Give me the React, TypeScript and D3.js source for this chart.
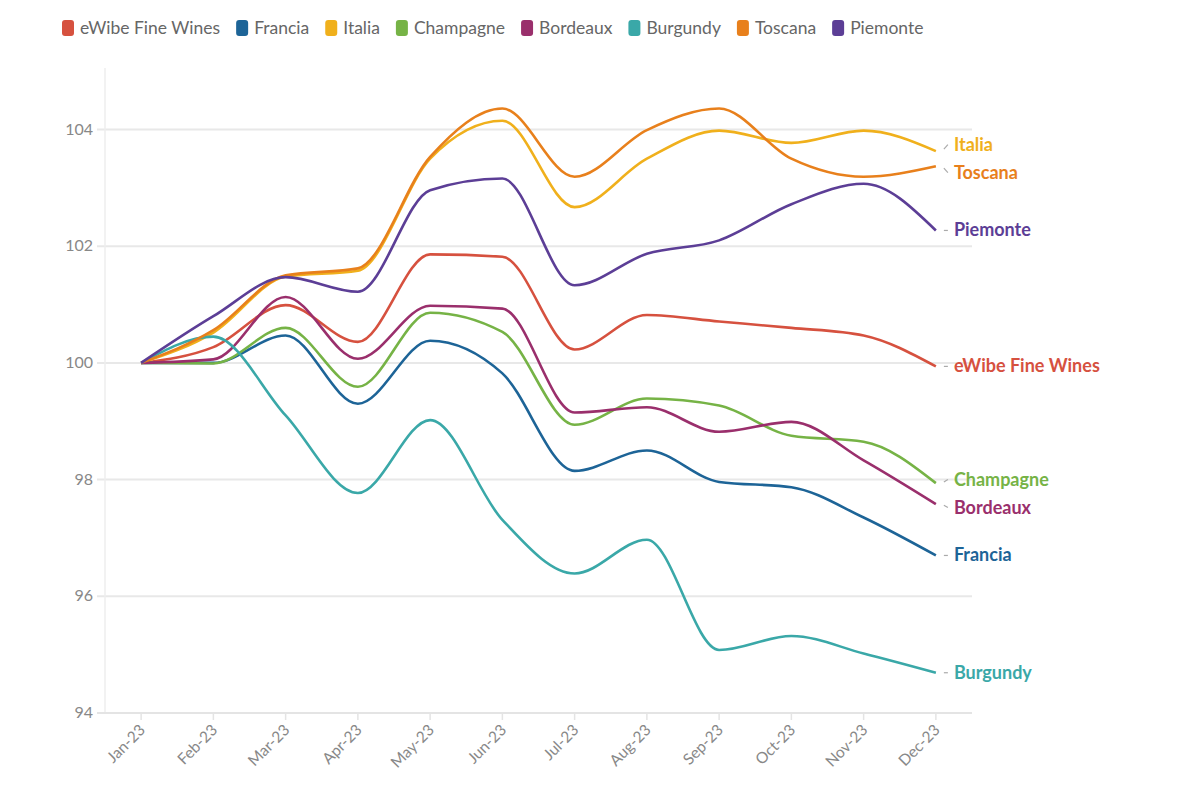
import React, { useRef, useEffect } from 'react';
import * as d3 from 'd3';

const months = ['Jan-23', 'Feb-23', 'Mar-23', 'Apr-23', 'May-23', 'Jun-23', 'Jul-23', 'Aug-23', 'Sep-23', 'Oct-23', 'Nov-23', 'Dec-23'];
const seriesNames = ['eWibe Fine Wines', 'Francia', 'Italia', 'Champagne', 'Bordeaux', 'Burgundy', 'Toscana', 'Piemonte'];
const seriesColors = ['#d6513f', '#1d6497', '#f0b01c', '#76b346', '#9a2f6c', '#3aa8a8', '#e8801c', '#5c3e96'];

const eWibe = [100, 100.27, 100.99, 100.36, 101.86, 101.82, 100.23, 100.82, 100.71, 100.6, 100.47, 99.94];
const francia = [100, 100.0, 100.47, 99.3, 100.38, 99.82, 98.15, 98.5, 97.96, 97.87, 97.35, 96.7];
const italia = [100, 100.52, 101.48, 101.58, 103.5, 104.15, 102.67, 103.5, 103.98, 103.77, 103.98, 103.63];
const champagne = [100, 99.99, 100.6, 99.59, 100.86, 100.53, 98.94, 99.39, 99.27, 98.75, 98.65, 97.94];
const bordeaux = [100, 100.06, 101.13, 100.07, 100.98, 100.93, 99.15, 99.24, 98.82, 98.99, 98.33, 97.58];
const burgundy = [100, 100.45, 99.1, 97.77, 99.02, 97.31, 96.39, 96.97, 95.08, 95.32, 95.02, 94.69];
const toscana = [100, 100.56, 101.5, 101.62, 103.53, 104.36, 103.19, 103.99, 104.36, 103.5, 103.19, 103.37];
const piemonte = [100, 100.8, 101.47, 101.22, 102.96, 103.16, 101.33, 101.87, 102.1, 102.72, 103.07, 102.27];

const seriesValues = [eWibe, francia, italia, champagne, bordeaux, burgundy, toscana, piemonte];
const yTicks = [94, 96, 98, 100, 102, 104];

const FONT = 'Lato, "Noto Sans", sans-serif';

const App = () => {
  const svgRef = useRef(null);

  useEffect(() => {
    const svg = d3.select(svgRef.current);
    svg.selectAll('*').remove();

    const left = 105, right = 972, top = 68, bottom = 713;

    const x = d3.scalePoint().domain(months).range([left, right]).padding(0.5);
    const y = d3.scaleLinear().domain([94, 94 + (bottom - top) / 58.35]).range([bottom, top]);

    // legend
    const legend = svg.append('g').attr('transform', 'translate(62,20)');
    let lx = 0;
    seriesNames.forEach((name, i) => {
      const g = legend.append('g').attr('transform', `translate(${lx},0)`);
      g.append('rect').attr('width', 12).attr('height', 16).attr('rx', 3).attr('fill', seriesColors[i]);
      const t = g.append('text')
        .attr('x', 18).attr('y', 14)
        .attr('font-family', FONT).attr('font-size', 17.5).attr('fill', '#666')
        .text(name);
      const w = (t.node() as SVGTextElement).getComputedTextLength();
      lx += 18 + w + 16;
    });

    // grid
    svg.append('g').selectAll('line').data(yTicks.filter(d => d !== 94)).enter().append('line')
      .attr('x1', left - 8).attr('x2', right)
      .attr('y1', d => y(d)).attr('y2', d => y(d))
      .attr('stroke', '#e8e8e8').attr('stroke-width', 2);

    // y axis line
    svg.append('line').attr('x1', left).attr('x2', left).attr('y1', top).attr('y2', bottom)
      .attr('stroke', '#eeeeee').attr('stroke-width', 1.5);

    // x baseline
    svg.append('line').attr('x1', left - 8).attr('x2', right).attr('y1', y(94)).attr('y2', y(94))
      .attr('stroke', '#e4e4e4').attr('stroke-width', 2);

    svg.append('g').selectAll('line').data(months).enter().append('line')
      .attr('x1', d => x(d)).attr('x2', d => x(d))
      .attr('y1', bottom).attr('y2', bottom + 7)
      .attr('stroke', '#e4e4e4').attr('stroke-width', 1.5);

    svg.append('g').selectAll('text').data(yTicks).enter().append('text')
      .attr('x', left - 12).attr('y', d => y(d) + 5)
      .attr('text-anchor', 'end')
      .attr('font-family', FONT).attr('font-size', 16).attr('fill', '#888')
      .text(d => d);

    svg.append('g').selectAll('text').data(months).enter().append('text')
      .attr('transform', d => `translate(${x(d) + 5},${bottom + 18}) rotate(-45)`)
      .attr('text-anchor', 'end')
      .attr('font-family', FONT).attr('font-size', 15.5).attr('fill', '#888')
      .text(d => d);

    // lines
    const line = d3.line<number>()
      .x((d, i) => x(months[i]))
      .y(d => y(d))
      .curve(d3.curveMonotoneX);

    seriesValues.forEach((vals, i) => {
      svg.append('path')
        .attr('d', line(vals))
        .attr('fill', 'none')
        .attr('stroke', seriesColors[i])
        .attr('stroke-width', 2.6)
        .attr('stroke-linejoin', 'round');
    });

    // end labels with simple dodge
    const last = months[months.length - 1];
    const ends = seriesNames.map((name, i) => {
      const v = seriesValues[i][seriesValues[i].length - 1];
      return { name, color: seriesColors[i], y0: y(v), ly: y(v) };
    }).sort((a, b) => a.y0 - b.y0);
    const gap = 28;
    for (let iter = 0; iter < 50; iter++) {
      for (let k = 1; k < ends.length; k++) {
        const d = ends[k].ly - ends[k - 1].ly;
        if (d < gap) {
          const shift = (gap - d) / 2;
          ends[k - 1].ly -= shift;
          ends[k].ly += shift;
        }
      }
    }
    const ex = x(last);
    ends.forEach(e => {
      svg.append('line')
        .attr('x1', ex + 8).attr('x2', ex + 12)
        .attr('y1', e.y0 + (e.ly - e.y0) * 0.3).attr('y2', e.ly)
        .attr('stroke', '#aaa').attr('stroke-width', 1.2);
      svg.append('text')
        .attr('x', ex + 18).attr('y', e.ly + 6)
        .attr('font-family', FONT).attr('font-size', 18).attr('font-weight', 700)
        .attr('fill', e.color)
        .text(e.name);
    });
  }, []);

  return (
    <svg ref={svgRef} width="1200" height="800" style={{ position: 'absolute', left: 0, top: 0, background: '#fff' }}></svg>
  );
};

export default App;
